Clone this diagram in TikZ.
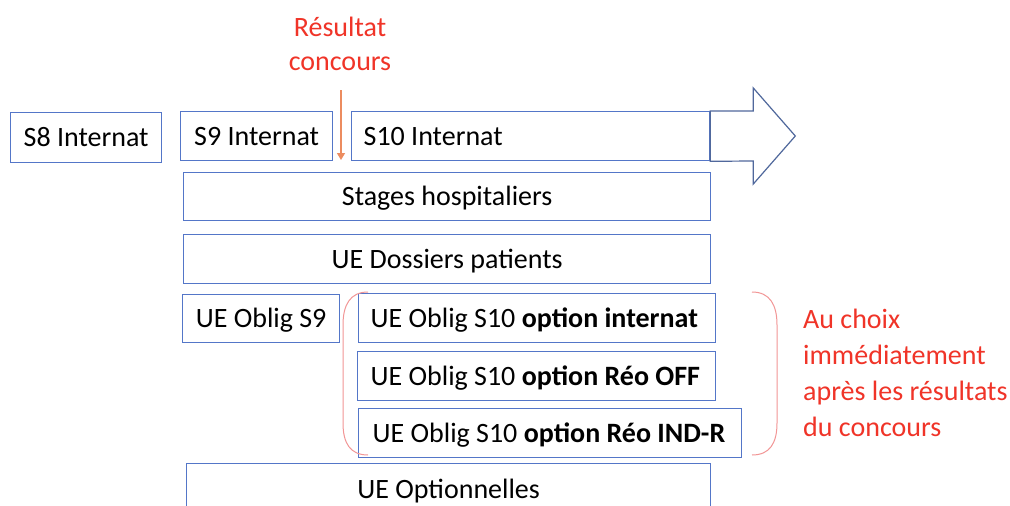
\documentclass[tikz,border=0pt]{standalone}
\usepackage{fontspec}
\setmainfont{Carlito}
\usetikzlibrary{arrows.meta}
\definecolor{boxblue}{RGB}{84,118,200}
\definecolor{arrowblue}{RGB}{80,104,156}
\definecolor{redtxt}{RGB}{240,52,40}
\definecolor{parenred}{RGB}{242,150,150}
\definecolor{orangearr}{RGB}{236,140,95}
\tikzset{
  box/.style={draw=boxblue, line width=1.3pt, inner sep=0pt, text height=18.5pt, text depth=0pt, anchor=north west, font=\fontsize{28}{34}\selectfont},
  lbox/.style={box, inner xsep=12pt},
  note/.style={text=redtxt, inner sep=0pt, font=\fontsize{28}{34}\selectfont},
  paren/.style={draw=parenred, line width=1pt},
}
\begin{document}
\begin{tikzpicture}[x=1pt,y=-1pt]
\clip (0,0) rectangle (1010,506);
\fill[white] (0,0) rectangle (1010,506);
\node[box, minimum width=151pt, minimum height=50pt] (s8) at (10,112) {S8 Internat};
\node[box, minimum width=152pt, minimum height=49pt] (s9) at (180,111) {S9 Internat};
\node[lbox, minimum height=49pt] (s10) at (351,111) {\makebox[334pt][l]{S10 Internat}};
\draw[arrowblue, line width=1.2pt, line join=miter]
  (s10.north east) -- ++(43,0) -- ++(0,-23) -- ++(42,48) -- ++(-42,48) -- ++(0,-23) -- (s10.south east) -- cycle;
\node[box, minimum width=527pt, minimum height=48pt] (stages) at (183,172) {Stages hospitaliers};
\node[box, minimum width=527pt, minimum height=49pt] (dossiers) at (183,234) {UE Dossiers patients};
\node[box, minimum width=157pt, minimum height=48pt] (ues9) at (182,294) {UE Oblig S9};
\node[lbox, minimum height=49pt] (opt1) at (358,293) {\makebox[333pt][l]{UE Oblig S10 \textbf{option internat}}};
\node[lbox, inner xsep=13pt, minimum height=49pt] (opt2) at (357,351) {\makebox[332pt][l]{UE Oblig S10 \textbf{option Réo OFF}}};
\node[lbox, inner xsep=14pt, minimum height=49pt] (opt3) at (358,408) {\makebox[355pt][l]{UE Oblig S10 \textbf{option Réo IND-R}}};
\node[box, minimum width=524pt, minimum height=52pt] (uopt) at (186,463) {UE Optionnelles};
% notes
\node[note, align=center, anchor=north] (res) at (340,17) {Résultat\\concours};
\coordinate (resend) at (341,160);
\draw[orangearr, line width=1.2pt, -{Triangle[length=7pt,width=8pt]}] (341,90) -- (resend);
\node[note, font=\fontsize{28}{36}\selectfont, align=left, anchor=north west] (choix) at (803,309) {Au choix\\immédiatement\\après les résultats\\du concours};
% parentheses
\draw[paren] (368,292) .. controls (350,292) and (343,305) .. (343,325) -- (343,423) .. controls (343,443) and (350,455) .. (368,455);
\draw[paren] (752,292) .. controls (770,292) and (777,305) .. (777,325) -- (777,423) .. controls (777,443) and (770,455) .. (752,455);
\end{tikzpicture}
\end{document}
